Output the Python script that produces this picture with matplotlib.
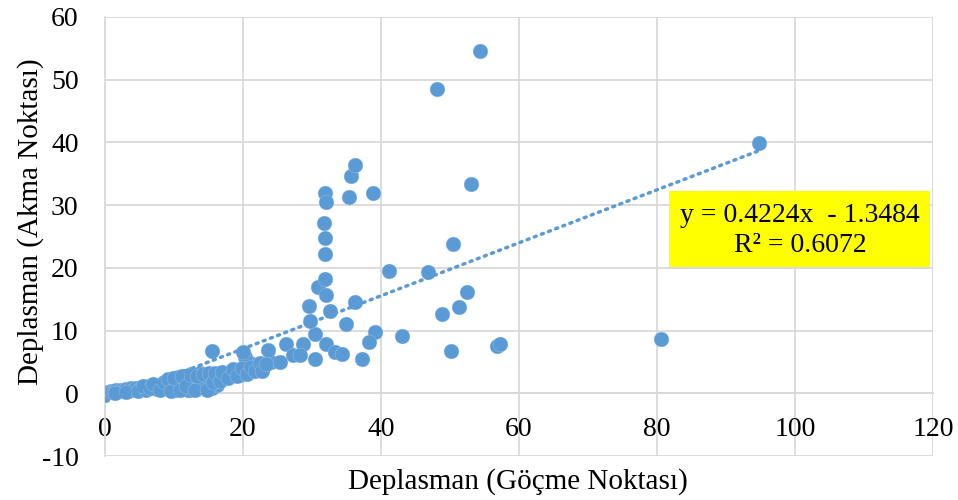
import numpy as np
import matplotlib.pyplot as plt
from matplotlib.patches import Rectangle

# ── Data ─────────────────────────────────────────────────────────────────────
# dense cluster near the origin
x_cluster = [0.2, 0.5, 0.8, 1.0, 1.3, 1.6, 2.0, 2.3, 2.7, 3.0, 3.4, 3.8, 4.1,
             4.5, 5.0, 5.4, 5.8, 6.3, 6.8, 7.2, 7.7, 8.1, 8.6, 9.0, 9.4, 9.9,
             10.3, 10.8, 11.2, 11.7, 12.1, 12.6, 13.0, 13.5, 14.0, 14.4, 14.9,
             15.3, 15.8, 16.3, 16.8, 17.3, 17.9, 18.4, 19.0, 19.6, 20.2, 20.8,
             21.5, 22.1, 10.5, 11.5, 12.2, 13.2, 14.6, 15.5, 16.2, 9.8, 10.6,
             11.4, 12.5, 13.8, 17.5, 18.2, 19.5, 20.5, 21.0, 22.0, 23.2, 20.3,
             16.5, 15.2, 12.0, 1.5, 3.0, 4.8, 6.0, 7.5, 8.8,
             5.5, 6.5, 7.0, 8.0, 8.5, 9.2, 9.6, 10.0, 10.8, 11.2, 11.8, 12.4,
             13.0, 13.3, 14.2, 14.8, 15.0, 15.6, 16.0, 16.6, 17.0, 17.8, 18.6,
             19.2, 19.8, 20.6, 21.2, 21.8, 22.4, 22.8, 24.0]
y_cluster = [0.1, 0.2, 0.3, 0.2, 0.4, 0.5, 0.3, 0.6, 0.5, 0.7, 0.4, 0.8, 0.6,
             0.9, 0.7, 1.0, 0.8, 1.1, 0.9, 1.2, 1.0, 1.3, 1.1, 1.5, 1.2, 1.6,
             1.4, 1.8, 1.5, 2.0, 1.7, 2.1, 1.9, 2.3, 2.0, 2.5, 2.2, 2.6, 2.4,
             2.8, 2.6, 3.0, 2.9, 3.3, 3.1, 3.5, 3.4, 3.8, 3.7, 4.0, 0.6, 0.9,
             0.5, 0.8, 1.1, 0.9, 1.4, 2.4, 2.6, 2.8, 3.0, 3.2, 3.2, 3.6, 2.9,
             3.2, 4.8, 4.2, 4.5, 5.8, 2.2, 1.3, 0.6, 0.0, 0.2, 0.3, 0.5, 0.7,
             0.8,
             1.2, 0.9, 1.5, 0.6, 1.8, 2.3, 0.4, 2.5, 0.5, 2.7, 1.2, 2.9,
             0.5, 2.7, 3.0, 0.6, 3.3, 1.8, 3.2, 2.0, 3.4, 2.4, 3.9,
             2.8, 4.0, 3.0, 4.2, 3.5, 4.8, 3.6, 5.0]
# scattered points
x_spread = [15.5, 20.0, 23.6, 23.4, 25.4, 26.3, 28.7, 27.3, 28.3, 32.1, 33.3,
            34.3, 30.4, 37.2, 30.4, 39.1, 38.2, 43.1, 50.1, 56.8, 57.2, 80.6,
            29.7, 34.9, 48.8, 51.3, 52.4, 29.6, 32.6, 36.2, 30.8, 32.1, 31.9,
            41.2, 46.8, 50.5, 31.9, 31.9, 31.8, 31.9, 32.1, 35.4, 38.8, 53.1,
            35.6, 36.2, 48.1, 54.3, 94.8]
y_spread = [6.8, 6.6, 6.9, 4.7, 5.0, 7.9, 7.9, 6.1, 6.1, 7.9, 6.6,
            6.2, 5.4, 5.5, 9.5, 9.8, 8.2, 9.1, 6.7, 7.5, 7.8, 8.6,
            11.6, 11.0, 12.7, 13.8, 16.1, 13.9, 13.1, 14.6, 17.0, 15.6, 18.3,
            19.5, 19.3, 23.8, 22.2, 24.8, 27.2, 32.0, 30.5, 31.3, 32.0, 33.3,
            34.6, 36.4, 48.5, 54.6, 39.9]

x_vals = np.array(x_cluster + x_spread)
y_vals = np.array(y_cluster + y_spread)

slope, intercept, r2 = 0.4224, -1.3484, 0.6072

x_ticks = [0, 20, 40, 60, 80, 100, 120]
y_ticks = [-10, 0, 10, 20, 30, 40, 50, 60]

# ── Plot ─────────────────────────────────────────────────────────────────────
plt.rcParams['font.family'] = ['Liberation Serif', 'DejaVu Serif']
plt.rcParams['axes.unicode_minus'] = False
blue = '#5B9BD5'
grid = '#D9D9D9'

fig = plt.figure(figsize=(9.58, 5.0), dpi=100)
ax = fig.add_axes([105/958, 44/500, 828/958, 439/500])

ax.scatter(x_vals, y_vals, s=115, color=blue, edgecolor='#A9C8EA',
           linewidth=0.25, zorder=3)

x_fit = np.array([x_vals.min(), x_vals.max()])
ax.plot(x_fit, slope * x_fit + intercept, color=blue, lw=2.5,
        linestyle=(0, (0.6, 1.6)), dash_capstyle='round', zorder=4)

ax.set_xlim(0, 120)
ax.set_ylim(-10, 60)
ax.set_xticks(x_ticks)
ax.set_yticks(y_ticks)
ax.grid(True, color=grid, lw=1.3, zorder=0)
ax.set_axisbelow(True)

for s in ['top', 'right']:
    ax.spines[s].set_visible(False)
ax.spines['left'].set_color(grid)
ax.spines['left'].set_linewidth(1.3)
ax.spines['bottom'].set_position(('data', 0))
ax.spines['bottom'].set_color(grid)
ax.spines['bottom'].set_linewidth(1.3)
ax.tick_params(axis='both', length=0, labelsize=20, colors='black')
ax.tick_params(axis='y', pad=19)
ax.tick_params(axis='x', pad=17)

ax.set_xlabel('Deplasman (Göçme Noktası)', fontsize=21)
ax.set_ylabel('Deplasman (Akma Noktası)', fontsize=21)
ax.xaxis.set_label_coords(0.499, -0.028)
ax.yaxis.set_label_coords(-0.074, 0.533)

# equation box
ax.add_patch(Rectangle((81.8, 20.2), 37.8, 12.1, facecolor='#FFFF00',
                       edgecolor='none', zorder=5))
ax.text(100.7, 28.3, f'y = {slope}x  - {abs(intercept)}', ha='center',
        va='center', fontsize=20, zorder=6)
ax.text(100.7, 23.6, f'R² = {r2}', ha='center', va='center', fontsize=20,
        zorder=6)

fig.savefig('out.png', dpi=100)
